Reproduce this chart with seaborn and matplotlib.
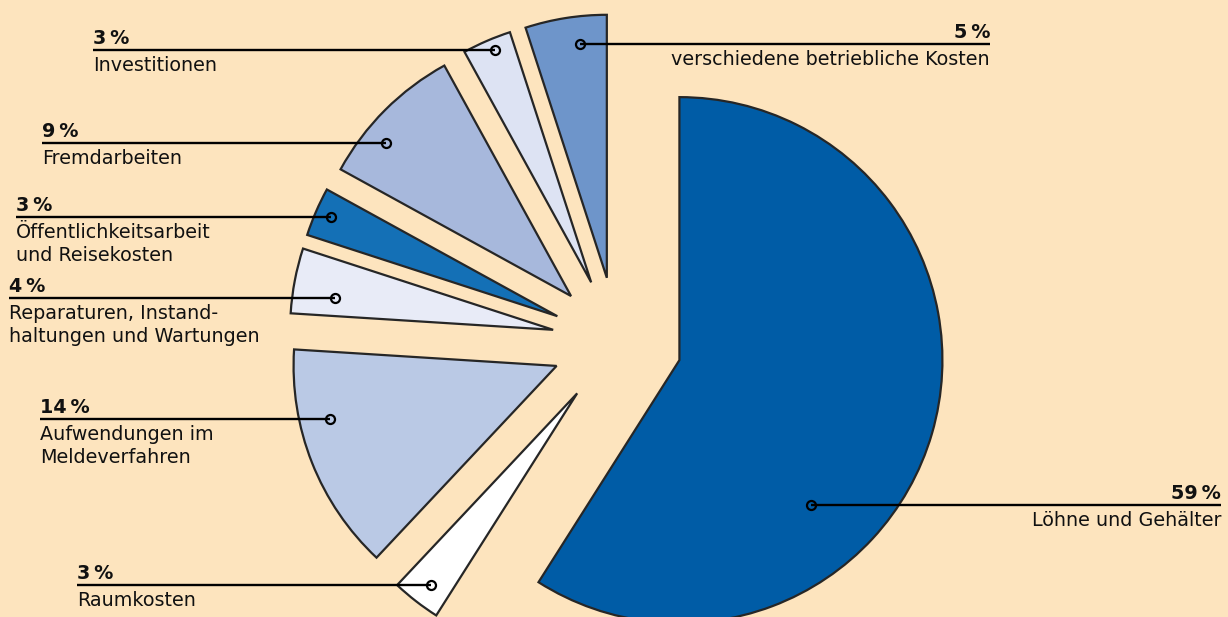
import matplotlib
matplotlib.use("Agg")
import matplotlib.pyplot as plt
import seaborn as sns

# Cost shares, listed clockwise from twelve o'clock
categories = [
    "Löhne und Gehälter",
    "Raumkosten",
    "Aufwendungen im\nMeldeverfahren",
    "Reparaturen, Instand-\nhaltungen und Wartungen",
    "Öffentlichkeitsarbeit\nund Reisekosten",
    "Fremdarbeiten",
    "Investitionen",
    "verschiedene betriebliche Kosten",
]
shares = [59, 3, 14, 4, 3, 9, 3, 5]
share_labels = [f"{v}\u2009%" for v in shares]

slice_hex = ["#005CA6", "#FFFFFF", "#BAC9E5", "#E8EBF7",
             "#1470B6", "#A7B8DC", "#DDE3F3", "#6E95CA"]

# Callout layout in pixel units (y measured from the top edge)
marker_x = [811, 431, 330, 335, 331, 386, 495, 580]
line_y = [505, 585, 419, 298, 217, 143, 50, 44]
text_x = [1221, 77, 40, 9, 16, 42, 93, 990]
text_side = ["right", "left", "left", "left", "left", "left", "left", "right"]

W, H = 1228, 617
CX, CY = 617, 342          # pie centre in pixels
R = 263.0                  # pie radius in pixels
GAP = 65.0                 # explode distance in pixels
BG = "#FDE4BE"

sns.set_theme(style="white")
plt.rcParams["font.family"] = ["DejaVu Sans"]
palette = sns.color_palette(slice_hex)


def to_data(px, py):
    return (px - CX) / R, (CY - py) / R


fig = plt.figure(figsize=(W / 100, H / 100), dpi=100)
fig.patch.set_facecolor(BG)
ax = fig.add_axes([0, 0, 1, 1])
ax.set_facecolor(BG)

ax.pie(
    shares,
    colors=palette,
    startangle=90,
    counterclock=False,
    explode=[GAP / R] * len(shares),
    radius=1.0,
    center=(0, 0),
    wedgeprops=dict(edgecolor="#262626", linewidth=1.6),
)

ax.set_xlim(-CX / R, (W - CX) / R)
ax.set_ylim((CY - H) / R, CY / R)
ax.set_aspect("equal")
ax.axis("off")

fs = 13.8
for name, pct, mx, ly, tx, side in zip(categories, share_labels, marker_x,
                                       line_y, text_x, text_side):
    x0, y0 = to_data(tx, ly)
    x1, _ = to_data(mx, ly)
    ax.plot([x0, x1], [y0, y0], color="black", lw=1.7, zorder=5,
            solid_capstyle="butt")
    ax.plot([x1], [y0], marker="o", ms=6.5, mfc="none", mec="black",
            mew=1.6, zorder=6)
    ha = "left" if side == "left" else "right"
    _, yb = to_data(tx, ly - 6)
    ax.text(x0, yb, pct, ha=ha, va="baseline", fontsize=fs,
            fontweight="bold", color="#111111", zorder=7)
    for i, row in enumerate(name.split("\n")):
        _, yr = to_data(tx, ly + 21 + 23 * i)
        ax.text(x0, yr, row, ha=ha, va="baseline", fontsize=fs,
                color="#111111", zorder=7)

fig.savefig("out.png", dpi=100, facecolor=BG)
